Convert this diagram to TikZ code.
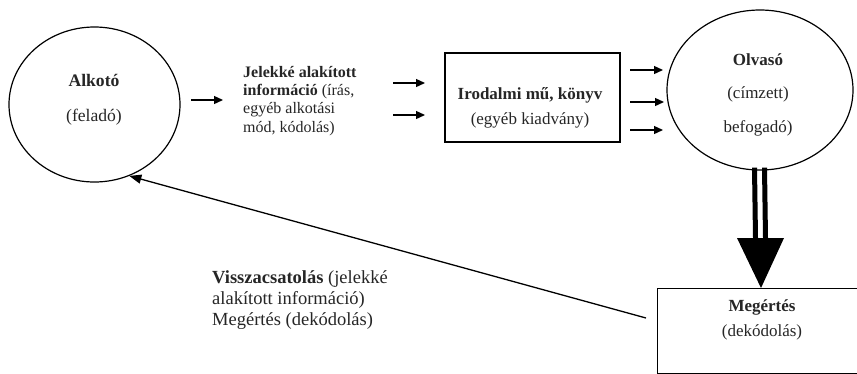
\documentclass[tikz,border=0pt]{standalone}
\usepackage{fontspec}
\setmainfont{Liberation Serif}
\usetikzlibrary{arrows.meta,calc,shapes.geometric}
\definecolor{ink}{gray}{0.15}
\newcommand{\fsz}[2]{\fontsize{#1}{#2}\selectfont}
\tikzset{
  shapeline/.style={draw=black, line width=1.2pt},
  oval/.style={shapeline, ellipse, inner sep=0pt},
  boxnode/.style={shapeline, rectangle, inner sep=0pt},
  txt/.style={text=ink, inner sep=0pt},
  flow/.style={line width=1.3pt, -{Triangle[length=9pt,width=8pt]}},
}
\begin{document}
\begin{tikzpicture}[x=1pt,y=-1pt]
  \clip (0,0) rectangle (857,373);
  \fill[white] (0,0) rectangle (857,373);

  % shapes
  \node[oval, minimum width=171pt, minimum height=155pt] (alk) at (94.5,104.5) {};
  \node[boxnode, minimum width=175pt, minimum height=89pt] (iro) at (532.5,97.5) {};
  \node[oval, minimum width=186pt, minimum height=160pt] (olv) at (760,90) {};
  \node[boxnode, minimum width=220pt, minimum height=85pt, anchor=north west] (meg) at (657,288) {};

  % texts
  \node[txt, align=center, font=\fsz{17.6}{35}] (alkT) at (94,99.5) {\textbf{Alkotó}\\(feladó)};
  \node[txt, align=left, anchor=west, font=\fsz{16}{18.3}] (jel) at (243,100.75)
    {\textbf{Jelekké alakított}\\\textbf{információ} (írás,\\egyéb alkotási\\mód, kódolás)};
  \node[txt, align=center, font=\fsz{17}{25}] (iroT) at (530,107.5) {\textbf{Irodalmi mű, könyv}\\(egyéb kiadvány)};
  \node[txt, align=center, font=\fsz{17}{33.5}] (olvT) at (758,94.5) {\textbf{Olvasó}\\(címzett)\\befogadó)};
  \node[txt, align=center, font=\fsz{17}{25}] (megT) at (762,319.5) {\textbf{Megértés}\\(dekódolás)};
  \node[txt, align=left, anchor=west, font=\fsz{18.5}{21}] (vissza) at (212,300)
    {\textbf{Visszacsatolás} (jelekké\\alakított információ)\\Megértés (dekódolás)};

  % small arrows
  \coordinate (a1s) at (191,100);  \coordinate (a1e) at (223,100);
  \draw[flow] (a1s) -- (a1e);
  \coordinate (b1s) at (393,83);   \coordinate (b1e) at (425,83);
  \coordinate (b2s) at (393,115);  \coordinate (b2e) at (425,115);
  \draw[flow] (b1s) -- (b1e);
  \draw[flow] (b2s) -- (b2e);
  \coordinate (c1s) at (630,70);   \coordinate (c1e) at (663,70);
  \coordinate (c2s) at (630,102);  \coordinate (c2e) at (664,102);
  \coordinate (c3s) at (630,130);  \coordinate (c3e) at (663,130);
  \draw[flow] (c1s) -- (c1e);
  \draw[flow] (c2s) -- (c2e);
  \draw[flow] (c3s) -- (c3e);

  % double arrow from Olvasó to Megértés
  \coordinate (dbl) at (761,238);
  \draw[line width=5pt] ($(olv.south)+(-5.5,-3)$) -- ($(dbl)+(-5.5,0)$);
  \draw[line width=5pt] ($(olv.south)+(4.5,-3)$) -- ($(dbl)+(4.5,0)$);
  \fill[black] ($(dbl)+(-24,0)$) -- ($(dbl)+(23,0)$) -- (meg.north -| dbl) -- cycle;

  % feedback arrow
  \coordinate (fb) at (646,318);
  \draw[line width=1.3pt, -{Triangle[length=12pt,width=9pt]}] (fb) -- (alk.-64);
\end{tikzpicture}
\end{document}
